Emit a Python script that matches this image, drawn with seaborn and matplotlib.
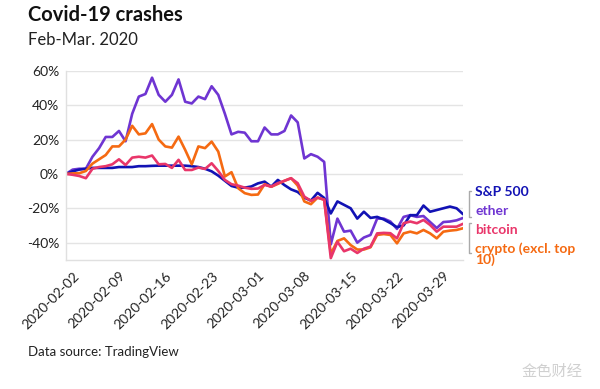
import numpy as np
import pandas as pd
import matplotlib
matplotlib.use("Agg")
import matplotlib.pyplot as plt
import matplotlib.dates as mdates
import seaborn as sns

# daily values, 2020-02-01 .. 2020-04-01, % change since Feb 1
dates = pd.date_range("2020-02-01", "2020-04-01", freq="D")

sp500 = [0, 1.5, 2.5, 3, 3.5, 3.5, 3.5, 3.5, 4, 4,
         4, 4.5, 4.5, 4.7, 4.8, 4.8, 4.8, 4.8, 4.8, 4.5,
         4, 3, 1.5, -1, -4, -7, -8, -8, -7.3, -5.5,
         -4.5, -7.4, -3.5, -6.5, -9, -10.5, -13.8, -15.5, -11, -14,
         -23, -16, -18, -20, -26, -22, -25.6, -25, -26.5, -28.6,
         -31, -30, -24, -24, -18.4, -22, -21, -20, -19, -20,
         -23.5]

ether = [0, 2.5, 3, 3, 10, 15, 21.5, 21.5, 25, 19,
         35, 45, 46.5, 56, 46, 42, 46, 55, 42, 41,
         45, 43.5, 51, 46, 35, 23, 24.5, 24, 19, 19,
         27, 23, 23, 25, 34, 30, 9, 11.5, 10, 7,
         -41, -26, -33.6, -33, -40, -37, -35.5, -26, -26, -27.7,
         -32, -25, -24, -25, -24.5, -28, -31.5, -28, -27.7, -27,
         -25.6]

bitcoin = [0, -0.5, -1.2, -2.5, 3, 4, 4.5, 5.6, 8.5, 5.2,
           9.5, 10, 9.5, 10.7, 5.6, 5.8, 3.5, 8.2, 2.3, 2.3,
           3.7, 2.9, 6.2, 1.7, -3.5, -6, -6.8, -8, -8.7, -8.5,
           -6.4, -7.4, -5.4, -4, -2.5, -5.4, -13.2, -15.7, -13.8, -15,
           -49, -39.5, -45, -43.5, -46, -43.5, -42.3, -34.6, -34.3, -34.5,
           -37.5, -28.7, -27.7, -28.7, -26.8, -29.7, -33.6, -30.7, -30.7, -30.7,
           -29]

crypto = [0, 0.3, 0.4, 1.7, 6, 8.5, 11, 16, 16, 20,
          28, 23, 23.6, 29, 20, 16, 15.3, 21.7, 14, 5.6,
          16, 15, 18.8, 13, -1.5, 1, -8.3, -11.2, -12.2, -12,
          -6, -7.5, -5.8, -4, -2.5, -6.8, -16, -17.6, -13.8, -15,
          -46.5, -39, -37.5, -41.4, -44, -44, -42.7, -35.5, -35, -35.5,
          -40.4, -34.6, -33.6, -34.6, -32.6, -34.6, -37.5, -33.6, -33, -32.6,
          -31.6]

series_names = ["S&P 500", "ether", "bitcoin", "crypto (excl. top 10)"]
colors = {"S&P 500": "#1212b4", "ether": "#6f35d2",
          "bitcoin": "#e9366a", "crypto (excl. top 10)": "#f56a12"}

df = pd.DataFrame({"date": dates, "S&P 500": sp500, "ether": ether,
                   "bitcoin": bitcoin, "crypto (excl. top 10)": crypto})
long = df.melt(id_vars="date", var_name="series", value_name="pct")

sns.set_theme(style="white")
plt.rcParams["font.family"] = ["Lato", "DejaVu Sans"]

fig = plt.figure(figsize=(6, 3.89), dpi=100)
ax = fig.add_axes([0.11, 0.332, 0.662, 0.486])

# draw order: ether, S&P, crypto, bitcoin on top
for name in ["ether", "S&P 500", "crypto (excl. top 10)", "bitcoin"]:
    sns.lineplot(data=long[long.series == name], x="date", y="pct",
                 color=colors[name], linewidth=1.9, ax=ax, legend=False)

ax.set_xlim(pd.Timestamp("2020-02-01"), pd.Timestamp("2020-04-01"))
ax.set_ylim(-50, 60)
ax.set_yticks([-40, -20, 0, 20, 40, 60])
ax.set_yticklabels([f"{v}%" for v in [-40, -20, 0, 20, 40, 60]])
ax.set_xticks(pd.date_range("2020-02-02", "2020-03-29", freq="7D"))
ax.xaxis.set_major_formatter(mdates.DateFormatter("%Y-%m-%d"))
plt.setp(ax.get_xticklabels(), rotation=45, ha="right", rotation_mode="anchor")
ax.tick_params(axis="x", length=4, color="#d8d8d8", labelsize=10, labelcolor="#222222", pad=3)
ax.tick_params(axis="y", length=0, labelsize=10, labelcolor="#222222", pad=5)
ax.set_xlabel("")
ax.set_ylabel("")
ax.grid(axis="y", color="#e4e4e4", linewidth=1)
ax.grid(axis="x", visible=False)
for s in ["top", "right"]:
    ax.spines[s].set_visible(False)
for s in ["left", "bottom"]:
    ax.spines[s].set_color("#e0e0e0")
    ax.spines[s].set_linewidth(1)

# end labels
lab_x = 475 / 600
fig.text(lab_x, 1 - 192 / 389, "S&P 500", color=colors["S&P 500"], fontsize=10,
         fontweight="bold", va="center")
fig.text(lab_x, 1 - 211 / 389, "ether", color=colors["ether"], fontsize=10,
         fontweight="bold", va="center")
fig.text(lab_x, 1 - 230 / 389, "bitcoin", color=colors["bitcoin"], fontsize=10,
         fontweight="bold", va="center")
fig.text(lab_x, 1 - 254 / 389, "crypto (excl. top\n10)", color=colors["crypto (excl. top 10)"],
         fontsize=10, fontweight="bold", va="center", linespacing=0.85)

# brackets
for y0, y1 in [(191, 217), (223, 253)]:
    xs = [471 / 600, 469 / 600, 469 / 600, 471 / 600]
    ys = [1 - y0 / 389, 1 - y0 / 389, 1 - y1 / 389, 1 - y1 / 389]
    fig.add_artist(plt.Line2D(xs, ys, color="#aaaaaa", linewidth=1))

fig.text(28 / 600, 1 - 15 / 389, "Covid-19 crashes", fontsize=14.5, fontweight="bold",
         color="#111111", va="center")
fig.text(28 / 600, 1 - 40 / 389, "Feb-Mar. 2020", fontsize=12, color="#222222", va="center")
fig.text(28 / 600, 1 - 352 / 389, "Data source: TradingView", fontsize=9.5,
         color="#222222", va="center")
fig.text(522 / 600, 1 - 371 / 389, "金色财经", fontsize=11, color="#d0d0d0", va="center",
         family=["Noto Sans CJK SC", "DejaVu Sans"])

fig.savefig("out.png", dpi=100)
